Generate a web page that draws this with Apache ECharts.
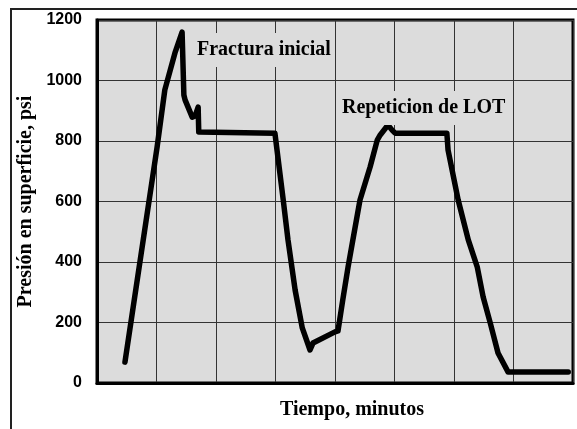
<!DOCTYPE html>
<html>
<head>
<meta charset="utf-8">
<script src="https://cdn.jsdelivr.net/npm/echarts@6/dist/echarts.min.js"></script>
<style>html,body{margin:0;padding:0;background:#fff;}#c{width:577px;height:429px;}</style>
</head>
<body>
<div id="c"></div>
<script>
// Time (minutes, arbitrary grid units) and surface pressure (psi)
var timeMin = [0.47, 1.01, 1.14, 1.31, 1.43, 1.46, 1.48, 1.60, 1.65, 1.70, 1.71, 2.99,
  3.13, 3.21, 3.33, 3.45, 3.58, 3.63, 4.00, 4.05,
  4.13, 4.22, 4.30, 4.42, 4.59, 4.71, 4.76, 4.89, 4.96, 5.01, 5.88,
  5.90, 6.07, 6.24, 6.39, 6.49, 6.61, 6.74, 6.91, 7.92];
var pressurePsi = [69, 780, 969, 1091, 1160, 952, 936, 879, 883, 912, 830, 826,
  605, 473, 307, 182, 109, 132, 169, 172,
  274, 384, 473, 605, 714, 803, 820, 853, 836, 826, 826,
  770, 605, 473, 384, 284, 198, 99, 36, 36];
var yTicks = [0, 200, 400, 600, 800, 1000, 1200];
var annotations = ["Fractura inicial", "Repeticion de LOT"];
var yTitle = "Presión en superficie, psi";
var xTitle = "Tiempo, minutos";

var chart = echarts.init(document.getElementById('c'), null, {renderer: 'canvas'});
var pts = timeMin.map(function (t, i) { return [t, pressurePsi[i]]; });
var serif = '"Liberation Serif", "Times New Roman", serif';
chart.setOption({
  animation: false,
  backgroundColor: '#ffffff',
  grid: {left: 97, top: 20, right: 4, bottom: 46, show: true,
    backgroundColor: '#dcdcdc', borderColor: '#000', borderWidth: 3},
  xAxis: {type: 'value', min: 0, max: 8, interval: 1,
    name: xTitle, nameLocation: 'middle', nameGap: 17,
    nameTextStyle: {fontFamily: serif, fontWeight: 'bold', fontSize: 20, color: '#000', padding: [0, 0, 0, 34]},
    axisLabel: {show: false}, axisTick: {show: false},
    axisLine: {show: true, lineStyle: {color: '#000', width: 3}},
    splitLine: {show: true, lineStyle: {color: '#333', width: 1}}},
  yAxis: {type: 'value', min: yTicks[0], max: yTicks[yTicks.length - 1], interval: 200,
    name: yTitle, nameLocation: 'middle', nameGap: 52, nameRotate: 90,
    nameTextStyle: {fontFamily: serif, fontWeight: 'bold', fontSize: 20, color: '#000'},
    axisLabel: {margin: 15, fontFamily: '"Liberation Sans", Arial, sans-serif', fontWeight: 'bold', fontSize: 16, color: '#000',
      formatter: function (v) { return String(v); }},
    axisTick: {show: false},
    axisLine: {show: true, lineStyle: {color: '#000', width: 3}},
    splitLine: {show: true, lineStyle: {color: '#333', width: 1}}},
  series: [{
    type: 'line', data: pts, showSymbol: false, symbol: 'none', smooth: false,
    lineStyle: {color: '#000', width: 5.5, join: 'round', cap: 'round'},
    z: 5
  }],
  graphic: [
    {type: 'line', shape: {x1: 10, y1: 9, x2: 577, y2: 9}, style: {stroke: '#222', lineWidth: 2}, z: 10},
    {type: 'line', shape: {x1: 11, y1: 9, x2: 11, y2: 429}, style: {stroke: '#222', lineWidth: 2}, z: 10},
    {type: 'text', x: 194, y: 50, z: 10,
      style: {text: annotations[0], font: 'bold 20px ' + serif, fill: '#000',
        verticalAlign: 'middle', align: 'left', backgroundColor: '#dcdcdc', padding: [7, 3, 7, 3]}},
    {type: 'text', x: 339, y: 108, z: 10,
      style: {text: annotations[1], font: 'bold 20px ' + serif, fill: '#000',
        verticalAlign: 'middle', align: 'left', backgroundColor: '#dcdcdc', padding: [7, 3, 7, 3]}}
  ]
});
</script>
</body>
</html>
